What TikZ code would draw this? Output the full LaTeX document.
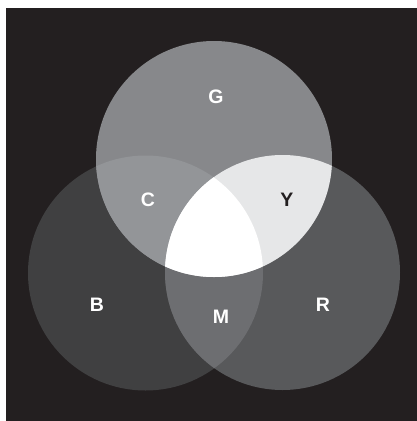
\documentclass[tikz,border=0pt]{standalone}
\usepackage{fontspec}
\setmainfont{Liberation Sans}
\definecolor{bgblack}{HTML}{231F20}
\definecolor{gonly}{HTML}{87888B}
\definecolor{bonly}{HTML}{404041}
\definecolor{ronly}{HTML}{58595B}
\definecolor{cmix}{HTML}{939598}
\definecolor{ymix}{HTML}{E6E7E8}
\definecolor{mmix}{HTML}{6D6E71}
\tikzset{
  lbl/.style={font=\fontsize{19.5}{22}\selectfont\bfseries, text=white, inner sep=0pt},
  dlbl/.style={lbl, text=bgblack}
}
\begin{document}
\begin{tikzpicture}[x=1pt,y=-1pt]
  \useasboundingbox (0,0) rectangle (417,421);
  \fill[white] (0,0) rectangle (417,421);
  \fill[bgblack] (6,8) rectangle (417,421);
  % circles
  \def\gcirc{(214,159) circle[radius=118]}
  \def\bcirc{(145.5,273) circle[radius=117.5]}
  \def\rcirc{(282.5,272.5) circle[radius=117.5]}
  \fill[bonly] \bcirc;
  \fill[ronly] \rcirc;
  \fill[gonly] \gcirc;
  % pairwise overlaps
  \begin{scope}
    \clip \bcirc;
    \fill[mmix] \rcirc;
    \fill[cmix] \gcirc;
  \end{scope}
  \begin{scope}
    \clip \gcirc;
    \fill[ymix] \rcirc;
    \clip \rcirc;
    \fill[white] \bcirc;
  \end{scope}
  % labels
  \node[lbl] (g) at (216,97) {G};
  \node[lbl] (c) at (148,200) {C};
  \node[dlbl] (y) at (287,200) {Y};
  \node[lbl] (b) at (97,305) {B};
  \node[lbl] (m) at (221,317) {M};
  \node[lbl] (r) at (323,305) {R};
\end{tikzpicture}
\end{document}
